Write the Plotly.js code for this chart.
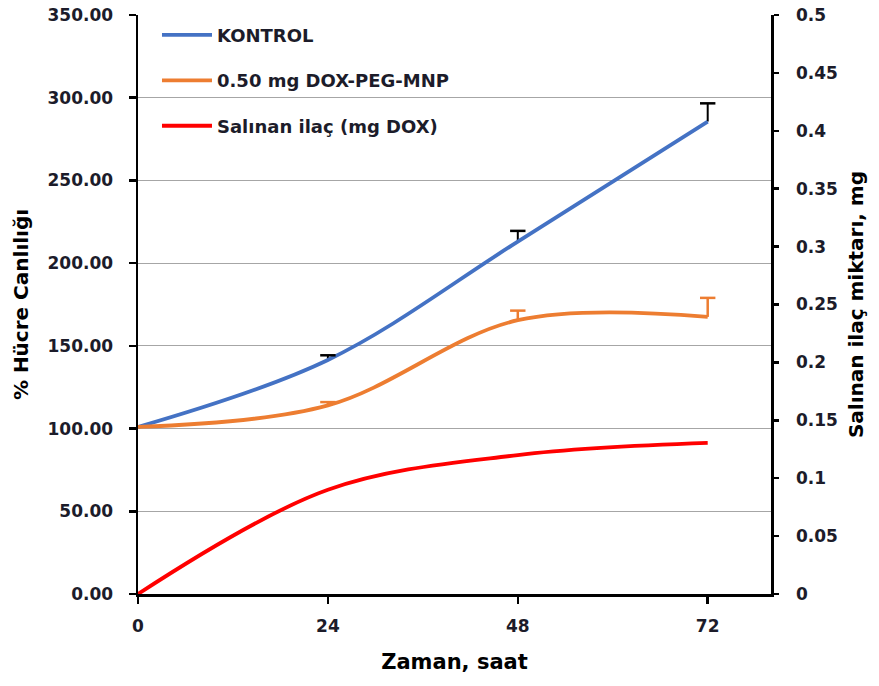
<!DOCTYPE html>
<html>
<head>
<meta charset="utf-8">
<script src="https://cdn.plot.ly/plotly-3.0.1.min.js"></script>
<style>html,body{margin:0;padding:0;background:#fff}#chart{width:879px;height:686px}</style>
</head>
<body>
<div id="chart"></div>
<script>
// Data
const hours = [0, 24, 48, 72];
const kontrol = [101, 141.5, 213, 285.6];
const kontrolErr = [0, 2.8, 6.5, 11];
const doxPegMnp = [101, 114, 165.5, 167.5];
const doxPegMnpErr = [0, 2, 5.8, 11.5];
const released = [0, 0.09, 0.12, 0.1305];
const seriesNames = ['KONTROL', '0.50 mg DOX-PEG-MNP', 'Salınan ilaç (mg DOX)'];
const xTicks = [0, 24, 48, 72];

const FONT = '"DejaVu Sans", Verdana, sans-serif';
const TXT = '#1c1c2a';

function capTrace(vals, errs, color) {
  const xs = [], ys = [];
  hours.forEach((h, i) => { if (errs[i] > 0) { xs.push(h); ys.push(vals[i] + errs[i]); } });
  return {
    x: xs, y: ys, type: 'scatter', mode: 'markers', showlegend: false, hoverinfo: 'skip',
    marker: {symbol: 'line-ew', size: 11, line: {color: color, width: 2.5}}
  };
}

const traces = [
  {
    x: hours, y: kontrol, name: seriesNames[0], type: 'scatter', mode: 'lines',
    line: {color: '#4472C4', width: 3.8, shape: 'spline', smoothing: 1},
    error_y: {type: 'data', symmetric: false, array: kontrolErr, arrayminus: [0,0,0,0], color: '#000', thickness: 2, width: 0},
    legendgroup: 'a'
  },
  capTrace(kontrol, kontrolErr, '#000'),
  {
    x: hours, y: doxPegMnp, name: seriesNames[1], type: 'scatter', mode: 'lines',
    line: {color: '#ED7D31', width: 3.8, shape: 'spline', smoothing: 1},
    error_y: {type: 'data', symmetric: false, array: doxPegMnpErr, arrayminus: [0,0,0,0], color: '#ED7D31', thickness: 2.5, width: 0},
    legendgroup: 'b'
  },
  capTrace(doxPegMnp, doxPegMnpErr, '#ED7D31'),
  {
    x: hours, y: released, name: seriesNames[2], type: 'scatter', mode: 'lines', yaxis: 'y2',
    line: {color: '#FF0000', width: 3.8, shape: 'spline', smoothing: 1},
    legendgroup: 'c'
  }
];

const layout = {
  width: 879, height: 686,
  margin: {l: 138, r: 108, t: 15, b: 92},
  paper_bgcolor: '#fff', plot_bgcolor: '#fff',
  font: {family: FONT, color: TXT, size: 17, weight: 'bold'},
  showlegend: true,
  legend: {
    x: 0.03, y: 0.997, xanchor: 'left', yanchor: 'top',
    bgcolor: 'rgba(0,0,0,0)', borderwidth: 0,
    font: {family: FONT, size: 18, color: TXT, weight: 'bold'},
    tracegroupgap: 19, itemwidth: 50
  },
  xaxis: {
    range: [0, 80], tickvals: xTicks, ticktext: xTicks.map(String),
    showgrid: false, zeroline: false,
    showline: true, linecolor: '#000', linewidth: 2.5,
    ticks: 'outside', ticklen: 7, tickwidth: 2.5, tickcolor: '#000',
    tickfont: {family: FONT, size: 17, color: TXT, weight: 'bold'},
    ticklabelstandoff: 8,
    title: {text: 'Zaman, saat', font: {family: FONT, size: 21, color: '#000', weight: 'bold'}, standoff: 20}
  },
  yaxis: {
    range: [0, 350], dtick: 50, tickformat: '.2f',
    showgrid: true, gridcolor: '#A6A6A6', gridwidth: 1,
    zeroline: false,
    showline: true, linecolor: '#000', linewidth: 2.5,
    ticks: 'outside', ticklen: 7, tickwidth: 2.5, tickcolor: '#000',
    tickfont: {family: FONT, size: 17, color: TXT, weight: 'bold'},
    ticklabelstandoff: 12,
    title: {text: '% Hücre Canlılığı', font: {family: FONT, size: 20, color: '#000', weight: 'bold'}, standoff: 14}
  },
  yaxis2: {
    range: [0, 0.5], dtick: 0.05, overlaying: 'y', side: 'right',
    showgrid: false, zeroline: false,
    showline: true, linecolor: '#000', linewidth: 2.5,
    ticks: 'outside', ticklen: 5, tickwidth: 2.5, tickcolor: '#000',
    tickfont: {family: FONT, size: 17, color: TXT, weight: 'bold'},
    ticklabelstandoff: 14,
    title: {text: 'Salınan ilaç miktarı, mg', font: {family: FONT, size: 20, color: '#000', weight: 'bold'}, standoff: 12}
  }
};

Plotly.newPlot('chart', traces, layout, {displayModeBar: false, staticPlot: true});
</script>
</body>
</html>
